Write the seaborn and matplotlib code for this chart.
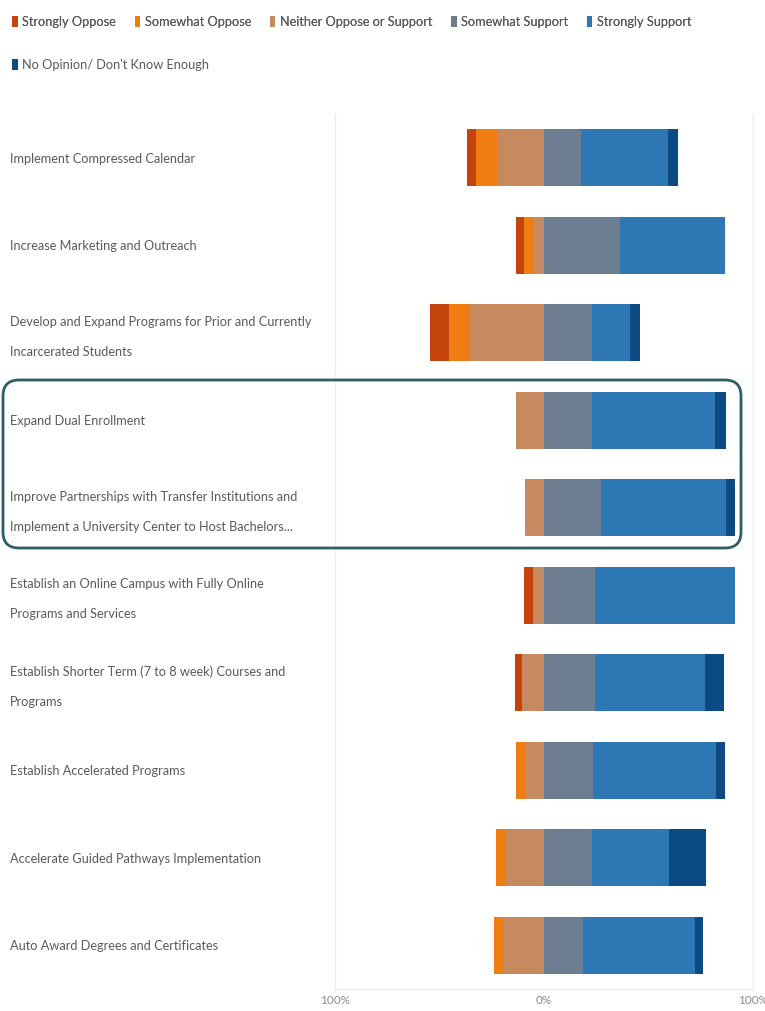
import matplotlib
matplotlib.use("Agg")
import matplotlib.pyplot as plt
import matplotlib.transforms as mtransforms
import seaborn as sns
import pandas as pd
from matplotlib.patches import Patch, FancyBboxPatch

categories = [
    "Implement Compressed Calendar",
    "Increase Marketing and Outreach",
    "Develop and Expand Programs for Prior and Currently\nIncarcerated Students",
    "Expand Dual Enrollment",
    "Improve Partnerships with Transfer Institutions and\nImplement a University Center to Host Bachelors...",
    "Establish an Online Campus with Fully Online\nPrograms and Services",
    "Establish Shorter Term (7 to 8 week) Courses and\nPrograms",
    "Establish Accelerated Programs",
    "Accelerate Guided Pathways Implementation",
    "Auto Award Degrees and Certificates",
]
strongly_oppose = [4.0, 4.0, 9.1, 0.0, 0.0, 4.3, 3.7, 0.0, 0.0, 0.0]
somewhat_oppose = [10.1, 4.8, 9.6, 0.0, 0.0, 0.0, 0.0, 4.8, 4.8, 4.8]
neither = [22.6, 4.7, 35.9, 13.5, 9.0, 5.4, 10.4, 8.7, 18.0, 19.1]
somewhat_support = [17.5, 36.5, 22.9, 23.1, 27.1, 24.2, 24.4, 23.4, 22.9, 18.6]
strongly_support = [42.0, 50.1, 18.1, 58.9, 59.9, 67.0, 52.5, 58.8, 36.8, 53.7]
no_opinion = [4.5, 0.0, 4.8, 5.1, 4.5, 0.0, 9.1, 4.5, 17.6, 4.0]

series_names = ["Strongly Oppose", "Somewhat Oppose", "Neither Oppose or Support",
                "Somewhat Support", "Strongly Support", "No Opinion/ Don't Know Enough"]
colors = ["#c4440c", "#f07d12", "#c68a5e", "#6e7e92", "#2d78b4", "#0b4a83"]
x_tick_values = [-100, 0, 100]
x_tick_labels = ["100%", "0%", "100%"]

df = pd.DataFrame({
    "category": categories,
    "so": strongly_oppose, "swo": somewhat_oppose, "n": neither,
    "sws": somewhat_support, "ss": strongly_support, "no": no_opinion,
})
# cumulative extents for overlay drawing (diverging around 0)
df["neg_so"] = -(df["n"] + df["swo"] + df["so"])
df["neg_swo"] = -(df["n"] + df["swo"])
df["neg_n"] = -df["n"]
df["pos_no"] = df["sws"] + df["ss"] + df["no"]
df["pos_ss"] = df["sws"] + df["ss"]
df["pos_sws"] = df["sws"]

sns.set_style("white")
plt.rcParams["font.family"] = ["Lato", "DejaVu Sans"]

fig = plt.figure(figsize=(7.65, 10.11), dpi=100)
W, H = 765, 1011
ax = fig.add_axes([335 / W, (H - 989) / H, (753 - 335) / W, (989 - 114) / H])

layers = [("neg_so", 0), ("neg_swo", 1), ("neg_n", 2),
          ("pos_no", 5), ("pos_ss", 4), ("pos_sws", 3)]
for col, ci in layers:
    sns.barplot(data=df, x=col, y="category", orient="h", color=colors[ci],
                saturation=1, width=0.65, errorbar=None, linewidth=0, ax=ax)

ax.set_xlim(-100, 100)
ax.set_ylim(len(categories) - 0.5, -0.5)
ax.set_xticks(x_tick_values)
ax.set_xticklabels(x_tick_labels, fontsize=8.5, color="#8a8a8a")
ax.set_xlabel("")
ax.set_ylabel("")
ax.spines["top"].set_visible(False)
for s in ["left", "right", "bottom"]:
    ax.spines[s].set_color("#ececec")
    ax.spines[s].set_linewidth(1.0)
ax.tick_params(axis="x", length=0, pad=4)
ax.tick_params(axis="y", length=0, pad=(335 - 10) * 72 / 100)
shift_up = mtransforms.ScaledTranslation(0, 6 / 100, fig.dpi_scale_trans)
for lab in ax.get_yticklabels():
    lab.set_horizontalalignment("left")
    lab.set_fontsize(9.2)
    lab.set_color("#5a5a5a")
    lab.set_linespacing(2.8)
    if "\n" in lab.get_text():
        lab.set_transform(lab.get_transform() + shift_up)

# legend
handles = [Patch(facecolor=c, edgecolor="none", label=l) for c, l in zip(colors, series_names)]
leg1 = fig.legend(handles=handles[:5], loc="center left", bbox_to_anchor=(12 / W, 1 - 22 / H),
                  ncol=5, frameon=False, fontsize=9.2, handlelength=0.45, handleheight=0.9,
                  handletextpad=0.35, columnspacing=1.45, borderpad=0, borderaxespad=0,
                  labelcolor="#5a5a5a")
leg2 = fig.legend(handles=handles[5:], loc="center left", bbox_to_anchor=(12 / W, 1 - 65 / H),
                  ncol=1, frameon=False, fontsize=9.2, handlelength=0.45, handleheight=0.9,
                  handletextpad=0.35, borderpad=0, borderaxespad=0, labelcolor="#5a5a5a")
fig.add_artist(leg1)

# highlight box around two rows
box = FancyBboxPatch((0.03, (H - 548) / 100), 7.38, (548 - 380) / 100,
                     boxstyle="round,pad=0,rounding_size=0.16",
                     transform=fig.dpi_scale_trans, fill=False,
                     edgecolor="#2f5e66", linewidth=2.0, zorder=10)
fig.add_artist(box)

fig.savefig("out.png", dpi=100)
